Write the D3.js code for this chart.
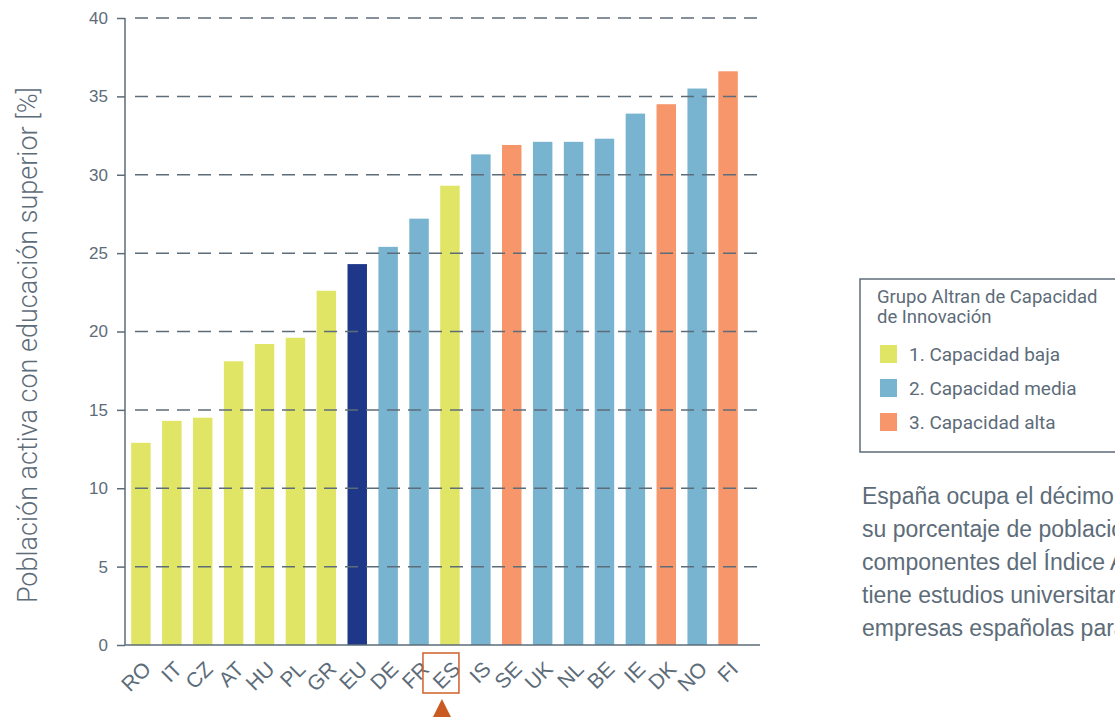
<!DOCTYPE html>
<html>
<head>
<meta charset="utf-8">
<script src="https://cdn.jsdelivr.net/npm/d3@7"></script>
<style>
  body { margin: 0; background: #fff; }
  svg { display: block; }
</style>
</head>
<body>
<div id="chart"></div>
<script>
// Data
var countries = ['RO', 'IT', 'CZ', 'AT', 'HU', 'PL', 'GR', 'EU', 'DE', 'FR', 'ES', 'IS', 'SE', 'UK', 'NL', 'BE', 'IE', 'DK', 'NO', 'FI'];
var values = [12.9, 14.3, 14.5, 18.1, 19.2, 19.6, 22.6, 24.3, 25.4, 27.2, 29.3, 31.3, 31.9, 32.1, 32.1, 32.3, 33.9, 34.5, 35.5, 36.6];
var groups = ['baja', 'baja', 'baja', 'baja', 'baja', 'baja', 'baja', 'eu', 'media', 'media', 'baja', 'media', 'alta', 'media', 'media', 'media', 'media', 'alta', 'media', 'alta'];
var yTicks = [0, 5, 10, 15, 20, 25, 30, 35, 40];
var legendLabels = ['1. Capacidad baja', '2. Capacidad media', '3. Capacidad alta'];
var legendKeys = ['baja', 'media', 'alta'];
var noteLines = [
  'España ocupa el décimo puesto en cuanto a',
  'su porcentaje de población activa con estudios,',
  'componentes del Índice Altran: el 29% de ella',
  'tiene estudios universitarios, lo que sitúa a las',
  'empresas españolas para innovar en buen lugar.'
];

var colors = { baja: '#e0e565', media: '#78b3d0', alta: '#f6966a', eu: '#1f3789' };
var ink = '#5d6c79';

// Create SVG Element
var chartWidth = 1115;
var chartHeight = 718;
var svg = d3.select('#chart')
    .append('svg')
    .attr('width', chartWidth)
    .attr('height', chartHeight)
    .style('font-family', 'Roboto, "Liberation Sans", sans-serif');

// Create Scales
var axisX = 125;
var baseY = 645;

var scaleX = d3.scaleBand()
    .domain(countries)
    .range([axisX, 744])
    .paddingInner(0.37)
    .paddingOuter(0.2);

var scaleY = d3.scaleLinear()
    .domain([0, 40])
    .range([baseY, 18]);

// Bars
svg.append('g')
    .selectAll('rect')
    .data(countries)
    .enter()
    .append('rect')
    .attr('x', function(d) { return scaleX(d); })
    .attr('y', function(d, i) { return scaleY(values[i]); })
    .attr('width', scaleX.bandwidth())
    .attr('height', function(d, i) { return baseY - scaleY(values[i]); })
    .attr('fill', function(d, i) { return colors[groups[i]]; });

// Dashed gridlines (drawn over the bars)
svg.append('g')
    .selectAll('line')
    .data(yTicks.slice(1))
    .enter()
    .append('line')
    .attr('x1', axisX + 10)
    .attr('x2', 760)
    .attr('y1', function(d) { return scaleY(d); })
    .attr('y2', function(d) { return scaleY(d); })
    .attr('stroke', ink)
    .attr('stroke-width', 1.5)
    .attr('stroke-dasharray', '13,8');

// Y axis
var yAxis = svg.append('g')
    .attr('transform', 'translate(' + axisX + ',0)')
    .call(d3.axisLeft(scaleY).tickValues(yTicks).tickSize(8).tickPadding(9));
yAxis.select('.domain').attr('stroke', ink).attr('stroke-width', 1.5).attr('d', 'M0,' + scaleY(40) + 'V' + baseY);
yAxis.selectAll('.tick line').attr('stroke', ink).attr('stroke-width', 1.5);
yAxis.selectAll('.tick text')
    .attr('fill', ink)
    .attr('font-size', 17)
    .attr('font-family', '"Liberation Sans", Arial, sans-serif');

// Baseline
svg.append('line')
    .attr('x1', axisX)
    .attr('x2', 760)
    .attr('y1', baseY)
    .attr('y2', baseY)
    .attr('stroke', ink)
    .attr('stroke-width', 1.5);

// X labels
svg.append('g')
    .selectAll('text')
    .data(countries)
    .enter()
    .append('text')
    .text(function(d) { return d; })
    .attr('transform', function(d) {
      return 'translate(' + (scaleX(d) + scaleX.bandwidth() / 2 + 1) + ',' + (baseY + 15) + ') rotate(-45)';
    })
    .attr('text-anchor', 'end')
    .attr('dy', '0.7em')
    .attr('font-size', 21)
    .attr('font-family', '"Liberation Sans", Arial, sans-serif')
    .attr('fill', ink);

// Highlight box and marker for ES
var esX = scaleX('ES') + scaleX.bandwidth() / 2;
svg.append('rect')
    .attr('x', esX - 27)
    .attr('y', 653)
    .attr('width', 36)
    .attr('height', 40)
    .attr('fill', 'none')
    .attr('stroke', '#d0602a')
    .attr('stroke-width', 1.5);
svg.append('path')
    .attr('d', d3.line()([[esX - 17, 717], [esX - 8, 699], [esX + 1, 717]]) + 'Z')
    .attr('fill', '#c95a22');

// Y axis title
svg.append('text')
    .text('Población activa con educación superior [%]')
    .attr('transform', 'translate(37,345) rotate(-90)')
    .attr('text-anchor', 'middle')
    .attr('font-size', 27)
    .attr('font-weight', 300)
    .attr('fill', ink);

// Legend
var legend = svg.append('g').attr('transform', 'translate(860,279)');
legend.append('rect')
    .attr('width', 300)
    .attr('height', 173)
    .attr('fill', 'none')
    .attr('stroke', ink)
    .attr('stroke-width', 1.5);
legend.append('text')
    .attr('font-size', 18.5)
    .attr('fill', ink)
    .selectAll('tspan')
    .data(['Grupo Altran de Capacidad', 'de Innovación'])
    .enter()
    .append('tspan')
    .attr('x', 17)
    .attr('y', function(d, i) { return 24 + i * 20; })
    .text(function(d) { return d; });
var items = legend.selectAll('.item')
    .data(legendKeys)
    .enter()
    .append('g')
    .attr('class', 'item')
    .attr('transform', function(d, i) { return 'translate(20,' + (66 + i * 34) + ')'; });
items.append('rect')
    .attr('width', 17)
    .attr('height', 18)
    .attr('fill', function(d) { return colors[d]; });
items.append('text')
    .attr('x', 29)
    .attr('y', 16)
    .attr('font-size', 19)
    .attr('fill', ink)
    .text(function(d, i) { return legendLabels[i]; });

// Note
svg.append('g')
    .selectAll('text')
    .data(noteLines)
    .enter()
    .append('text')
    .attr('x', 862)
    .attr('y', function(d, i) { return 504 + i * 33; })
    .attr('font-size', 23)
    .attr('font-family', '"Liberation Sans", Arial, sans-serif')
    .attr('fill', ink)
    .text(function(d) { return d; });
</script>
</body>
</html>
